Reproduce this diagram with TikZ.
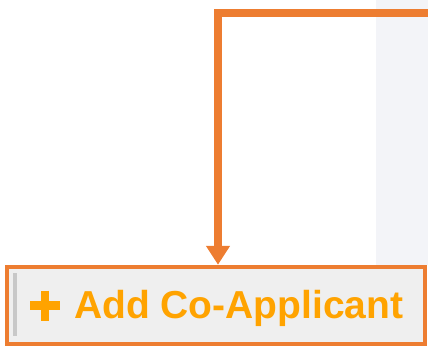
\documentclass[tikz,border=0pt]{standalone}
\usepackage{fontspec}
\setmainfont{Liberation Sans}
\usetikzlibrary{arrows.meta}
\definecolor{vien}{RGB}{237,125,49}
\definecolor{chu}{RGB}{255,163,0}
\definecolor{nen}{RGB}{243,244,248}
\definecolor{nut}{RGB}{239,239,239}
\definecolor{vach}{RGB}{200,200,200}
\tikzset{
	nutbam/.style={draw=vien,fill=nut,line width=4.5pt,minimum width=418pt,minimum height=77pt,inner sep=0pt},
	noi/.style={draw=vien,line width=8pt,line join=miter},
	nhan/.style={text=chu,font=\fontsize{39}{39}\selectfont\bfseries,inner sep=0pt}
}
\begin{document}
\begin{tikzpicture}[x=1pt,y=-1pt,>={Triangle[length=19pt,width=23pt]}]
	\useasboundingbox (0,0) rectangle (428,346);
	%Vẽ nền bên phải
	\fill[nen] (376,0) rectangle (428,265);
	% Nút bấm
	\node[nutbam] (btn) at (216,305.5) {};
	\fill[vach] (13,273) rectangle (17,336);
	\draw[chu,line width=8.5pt] (30,305.5) -- (60,305.5) (45,290.5) -- (45,320.5);
	\node[nhan,anchor=base west] (lbl) at (74,318) {Add Co-Applicant};
	%Vẽ mũi tên
	\coordinate (src) at (428,13);
	\draw[noi,->] (src) -| ([xshift=2pt]btn.north);
\end{tikzpicture}
\end{document}
